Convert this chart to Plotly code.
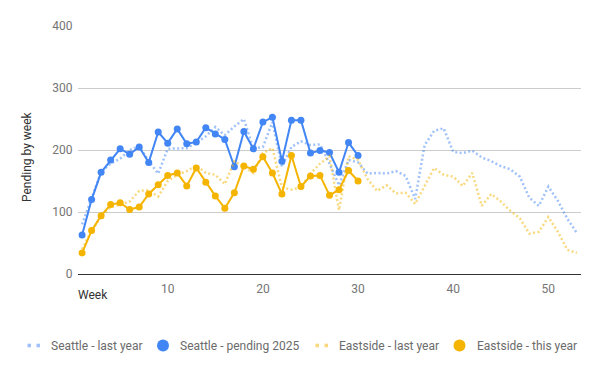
import plotly.graph_objects as go

# ---------------- data ----------------
weeks_last_year = [1, 2, 3, 4, 5, 6, 7, 8, 9, 10, 11, 12, 13, 14, 15, 16, 17, 18, 19, 20,
                   21, 22, 23, 24, 25, 26, 27, 28, 29, 30, 31, 32, 33, 34, 35, 36, 37, 38,
                   39, 40, 41, 42, 43, 44, 45, 46, 47, 48, 49, 50, 51, 52, 53]
weeks_this_year = [1, 2, 3, 4, 5, 6, 7, 8, 9, 10, 11, 12, 13, 14, 15, 16, 17, 18, 19, 20,
                   21, 22, 23, 24, 25, 26, 27, 28, 29, 30]

seattle_last_year = [80, 122, 165, 178, 186, 200, 206, 182, 162, 202, 202, 203, 212, 222, 237,
                     224, 238, 250, 202, 205, 245, 173, 205, 214, 208, 209, 178, 143, 184, 180,
                     162, 163, 162, 166, 158, 121, 208, 231, 235, 197, 195, 199, 188, 182, 174,
                     169, 157, 123, 110, 141, 118, 89, 66]
seattle_pending_2025 = [63, 120, 164, 184, 202, 193, 205, 180, 229, 211, 234, 210, 213, 236, 226,
                        217, 173, 230, 202, 245, 253, 182, 248, 248, 195, 199, 196, 164, 212, 191]
eastside_last_year = [40, 70, 93, 108, 112, 117, 134, 135, 125, 150, 160, 166, 175, 163, 160,
                      145, 182, 172, 163, 195, 203, 140, 136, 140, 162, 178, 190, 103, 190, 184,
                      153, 134, 143, 130, 131, 113, 143, 171, 160, 157, 142, 163, 110, 129, 117,
                      102, 90, 65, 68, 92, 68, 39, 34]
eastside_this_year = [34, 70, 94, 112, 115, 104, 108, 129, 144, 159, 163, 142, 171, 148, 126,
                      106, 131, 174, 169, 189, 163, 129, 191, 141, 158, 159, 127, 136, 167, 150]

series_names = ["Seattle - last year", "Seattle - pending 2025",
                "Eastside - last year", "Eastside - this year"]
y_ticks = [0, 100, 200, 300, 400]
x_ticks = [10, 20, 30, 40, 50]

# ---------------- styling ----------------
BLUE = "#4285F4"
BLUE_LIGHT = "rgba(66,133,244,0.5)"
GOLD = "#F4B400"
GOLD_LIGHT = "rgba(244,180,0,0.5)"
FONT = "Roboto, Arial, sans-serif"
W, H = 600, 371
OFF = 8  # default page body margin shifts the figure by 8px
# plot area in screen pixels: x 78..581, y 26..274
L, T = 78 - OFF, 26 - OFF
R = W - (581 - OFF)
B = H - (274 - OFF)
PW, PH = W - L - R, H - T - B

fig = go.Figure()

dot_line = dict(width=2.5, dash="2px,2.4px")

fig.add_trace(go.Scatter(x=weeks_last_year, y=seattle_last_year, name=series_names[0],
                         mode="lines", line=dict(color=BLUE_LIGHT, **dot_line),
                         showlegend=False))
fig.add_trace(go.Scatter(x=weeks_this_year, y=seattle_pending_2025, name=series_names[1],
                         mode="lines+markers", line=dict(color=BLUE, width=2),
                         marker=dict(color=BLUE, size=7), showlegend=False))
fig.add_trace(go.Scatter(x=weeks_last_year, y=eastside_last_year, name=series_names[2],
                         mode="lines", line=dict(color=GOLD_LIGHT, **dot_line),
                         showlegend=False))
fig.add_trace(go.Scatter(x=weeks_this_year, y=eastside_this_year, name=series_names[3],
                         mode="lines+markers", line=dict(color=GOLD, width=2),
                         marker=dict(color=GOLD, size=7), showlegend=False))


def px_x(sx):
    return (sx - OFF - L) / PW


def px_y(sy):
    return (H - B - (sy - OFF)) / PH


shapes = []
annotations = []

# custom legend (compact Google-Charts style), screen pixel positions
legend_y = 345.5
legend_items = [
    ("dots", BLUE_LIGHT, 27.5, 49, series_names[0]),
    ("circle", BLUE, 163, 177.5, series_names[1]),
    ("dots", GOLD_LIGHT, 315.5, 337, series_names[2]),
    ("circle", GOLD, 459.5, 475, series_names[3]),
]
for kind, color, sx, tx, label in legend_items:
    if kind == "circle":
        r = 6
        shapes.append(dict(type="circle", xref="paper", yref="paper",
                           x0=px_x(sx - r), x1=px_x(sx + r),
                           y0=px_y(legend_y + r), y1=px_y(legend_y - r),
                           fillcolor=color, line=dict(width=0)))
    else:
        for off in (0, 9):
            shapes.append(dict(type="rect", xref="paper", yref="paper",
                               x0=px_x(sx + off), x1=px_x(sx + off + 3.5),
                               y0=px_y(legend_y + 1.8), y1=px_y(legend_y - 1.8),
                               fillcolor=color, line=dict(width=0)))
    annotations.append(dict(text=label, xref="paper", yref="paper",
                            x=px_x(tx), y=px_y(legend_y), xanchor="left", yanchor="middle",
                            showarrow=False, font=dict(family=FONT, size=12, color="#6b6b6b")))

# axis titles
annotations.append(dict(text="Week", xref="paper", yref="paper", x=px_x(76), y=px_y(295),
                        xanchor="left", yanchor="middle", showarrow=False,
                        font=dict(family=FONT, size=12, color="#333333")))
annotations.append(dict(text="Pending by week", xref="paper", yref="paper", x=px_x(27),
                        y=px_y(157), xanchor="center", yanchor="middle", textangle=-90,
                        showarrow=False, font=dict(family=FONT, size=12, color="#333333")))

fig.update_layout(
    width=W, height=H,
    margin=dict(l=L, r=R, t=T, b=B, pad=0),
    paper_bgcolor="white", plot_bgcolor="white",
    font=dict(family=FONT, size=12, color="#757575"),
    shapes=shapes, annotations=annotations,
    showlegend=False,
    hovermode="closest",
)
fig.update_xaxes(range=[0.57, 53.43], tickvals=x_ticks, showgrid=False, zeroline=False,
                 showline=True, linecolor="#333333", linewidth=1,
                 ticks="outside", ticklen=4, tickcolor="rgba(0,0,0,0)",
                 tickfont=dict(family=FONT, size=12, color="#757575"))
fig.update_yaxes(range=[0, 400], tickvals=y_ticks, showgrid=True, gridcolor="#cccccc",
                 gridwidth=1, zeroline=False, showline=False,
                 ticks="outside", ticklen=2, tickcolor="rgba(0,0,0,0)",
                 tickfont=dict(family=FONT, size=12, color="#757575"))

fig.write_html("out.html")
